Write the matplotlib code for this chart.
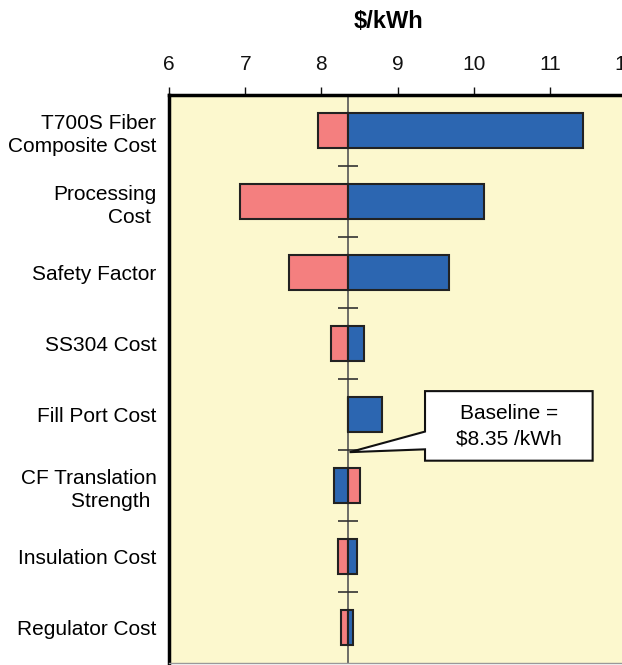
import matplotlib.pyplot as plt
import matplotlib.patches as mpatches
import numpy as np

plt.rcParams['font.family'] = ['Liberation Sans', 'DejaVu Sans']

# dados do gráfico tornado
categorias = ['T700S Fiber\nComposite Cost', 'Processing\nCost ', 'Safety Factor', 'SS304 Cost',
              'Fill Port Cost', 'CF Translation\nStrength ', 'Insulation Cost', 'Regulator Cost']
valor_vermelho = [7.95, 6.93, 7.57, 8.13, 8.35, 8.51, 8.22, 8.26]
valor_azul = [11.43, 10.13, 9.68, 8.56, 8.79, 8.17, 8.47, 8.42]
baseline = 8.35
xticks = [6, 7, 8, 9, 10, 11, 12]

fig = plt.figure(figsize=(6.22, 6.65), dpi=100)
ax = fig.add_axes([0.2717, 0.003, 0.735, 0.854])
ax.set_facecolor('#FCF8CE')

y = np.arange(len(categorias))
verm = np.array(valor_vermelho) - baseline
azul = np.array(valor_azul) - baseline
ax.barh(y, verm, left=baseline, height=0.5, color='#F47F7F', edgecolor='#222222', linewidth=1.5, zorder=3)
ax.barh(y, azul, left=baseline, height=0.5, color='#2C66B1', edgecolor='#222222', linewidth=1.5, zorder=3)

# linha de base e marcas entre categorias
ax.axvline(baseline, color='#555555', linewidth=1.2, zorder=2)
ax.plot([baseline] * (len(categorias) - 1), y[:-1] + 0.5, ls='none', marker='_',
        markersize=14, markeredgewidth=1.2, color='#333333', zorder=2)

ax.set_xlim(6, 12)
ax.set_ylim(len(categorias) - 0.5, -0.5)
ax.set_xticks(xticks)
ax.xaxis.tick_top()
ax.tick_params(axis='x', direction='out', length=6, width=1, pad=9, labelsize=15, colors='#111111')
ax.set_yticks(y)
ax.set_yticklabels(categorias, linespacing=1.3)
ax.tick_params(axis='y', length=0, pad=9, labelsize=15)

ax.spines['right'].set_visible(False)
ax.spines['left'].set_linewidth(2.5)
ax.spines['top'].set_linewidth(2.5)
ax.spines['bottom'].set_color('#999999')
ax.spines['bottom'].set_linewidth(1)

fig.text(389 / 622, 1 - 22 / 665, '\\$/kWh', ha='center', va='center', fontsize=17, fontweight='bold')

# balão "Baseline"
balao = mpatches.Polygon([(9.36, 3.67), (11.56, 3.67), (11.56, 4.65), (9.36, 4.65),
                          (9.36, 4.49), (8.37, 4.53), (9.36, 4.24)], closed=True,
                         facecolor='white', edgecolor='#111111', linewidth=1.5, zorder=4)
ax.add_patch(balao)
ax.text(10.46, 4.16, 'Baseline =\n\\$8.35 /kWh', ha='center', va='center', fontsize=15,
        linespacing=1.45, zorder=5)

plt.savefig('out.png', dpi=100)
